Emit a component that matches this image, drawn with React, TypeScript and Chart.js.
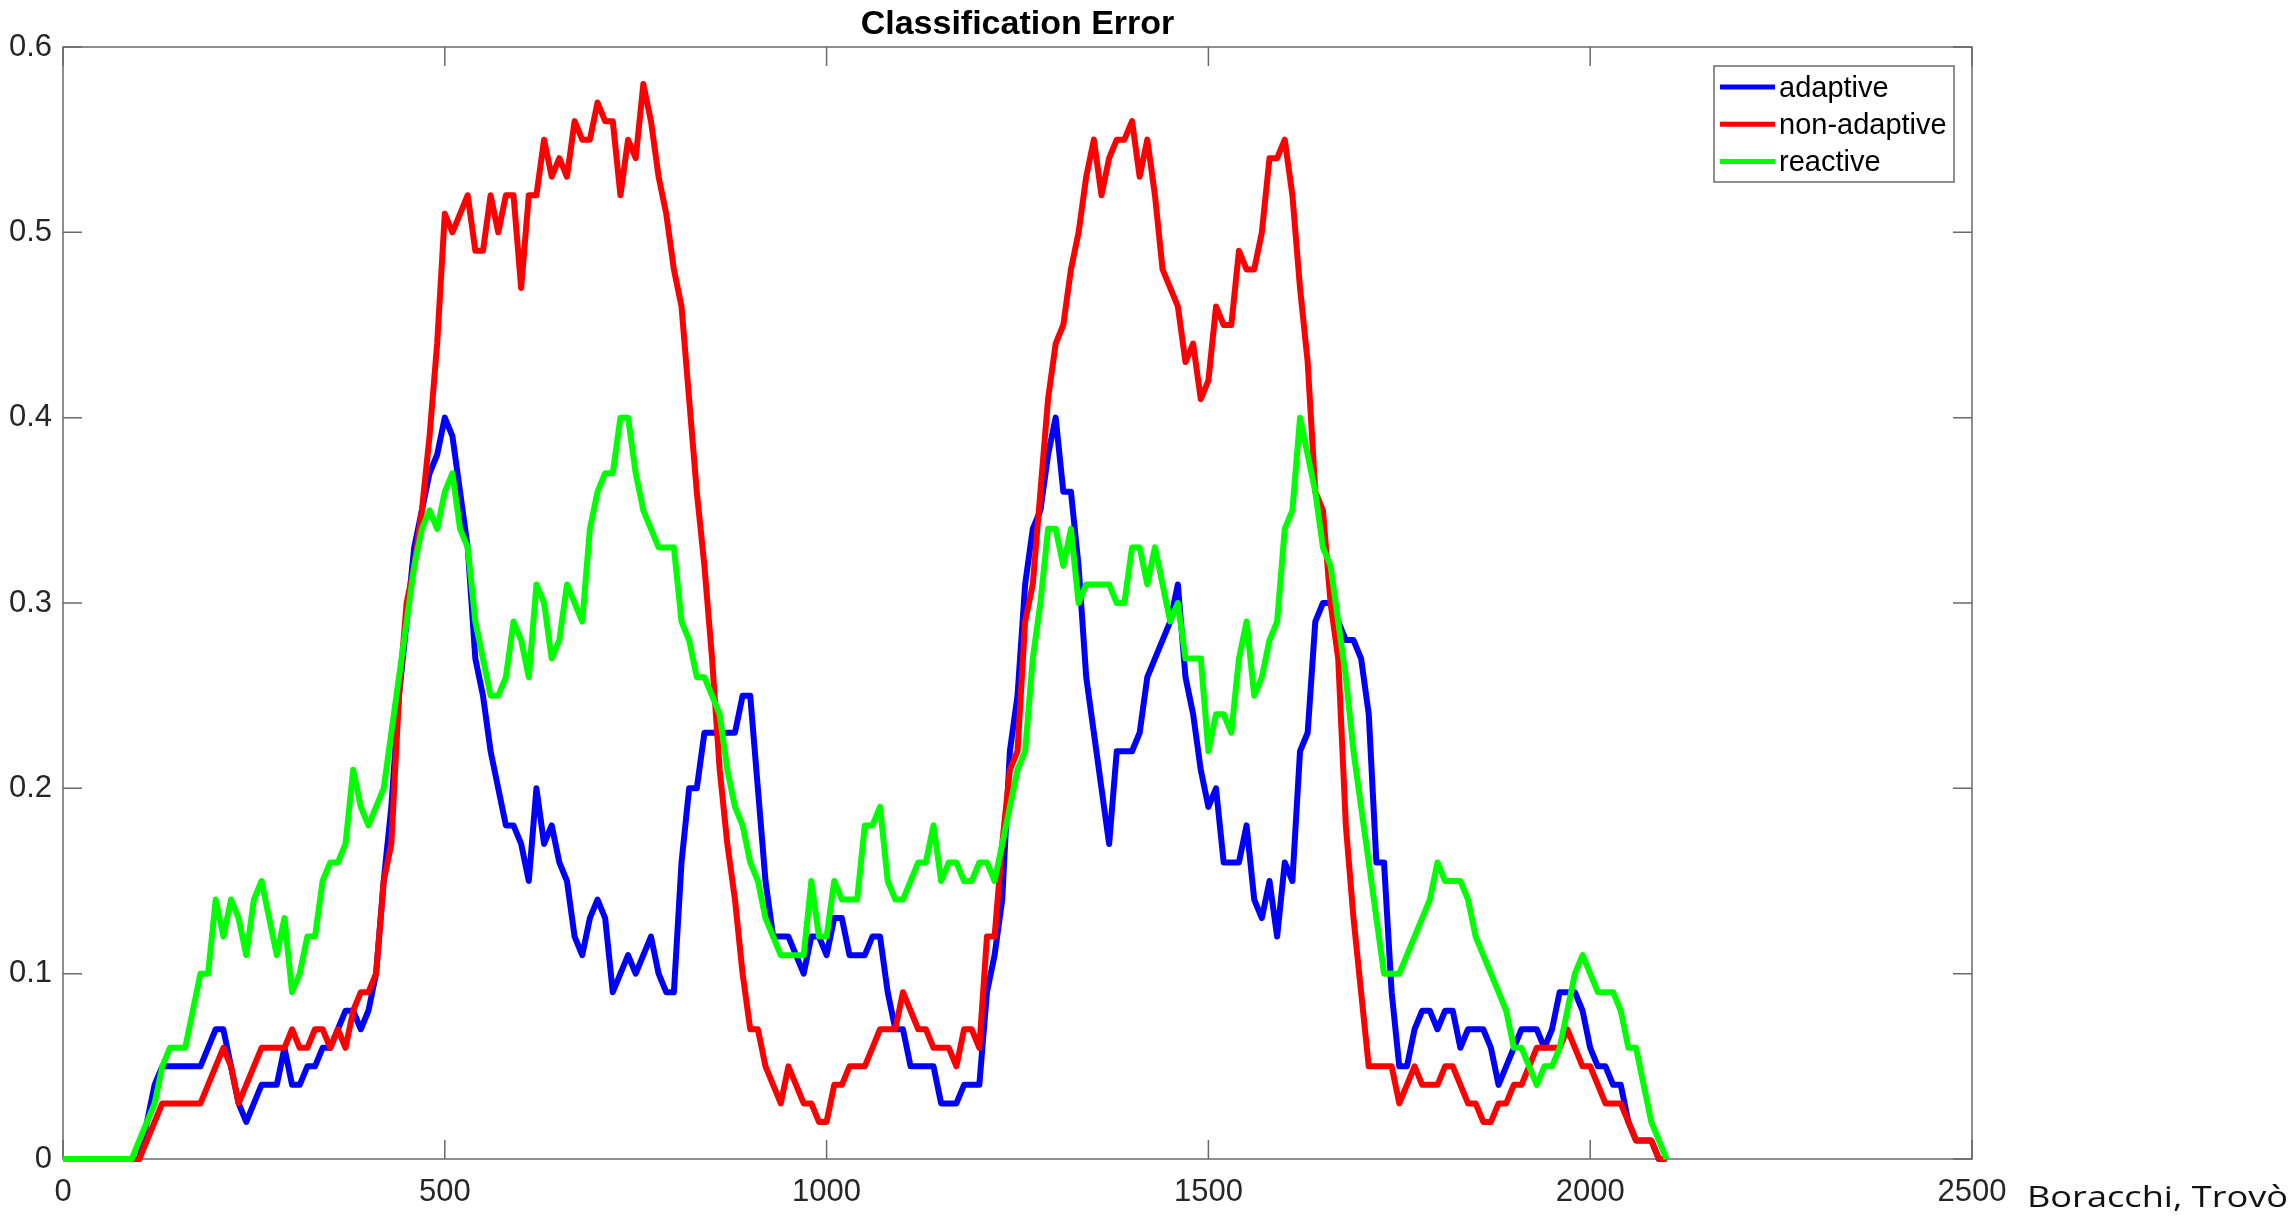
import React, { useEffect, useRef } from "react";
import { Chart, registerables } from "chart.js";

Chart.register(...registerables);

// Classification error, one reading every SAMPLE_STEP samples (t = 0 .. 2100)
const SAMPLE_STEP = 10;

const adaptive = [
  0, 0, 0, 0, 0, 0, 0, 0, 0, 0, 0,
  0.02, 0.04, 0.05, 0.05, 0.05, 0.05, 0.05, 0.05, 0.06, 0.07,
  0.07, 0.05, 0.03, 0.02, 0.03, 0.04, 0.04, 0.04, 0.06, 0.04,
  0.04, 0.05, 0.05, 0.06, 0.06, 0.07, 0.08, 0.08, 0.07, 0.08,
  0.10, 0.15, 0.19, 0.25, 0.29, 0.33, 0.35, 0.37, 0.38, 0.40,
  0.39, 0.36, 0.33, 0.27, 0.25, 0.22, 0.20, 0.18, 0.18, 0.17,
  0.15, 0.20, 0.17, 0.18, 0.16, 0.15, 0.12, 0.11, 0.13, 0.14,
  0.13, 0.09, 0.10, 0.11, 0.10, 0.11, 0.12, 0.10, 0.09, 0.09,
  0.16, 0.20, 0.20, 0.23, 0.23, 0.23, 0.23, 0.23, 0.25, 0.25,
  0.20, 0.15, 0.12, 0.12, 0.12, 0.11, 0.10, 0.12, 0.12, 0.11,
  0.13, 0.13, 0.11, 0.11, 0.11, 0.12, 0.12, 0.09, 0.07, 0.07,
  0.05, 0.05, 0.05, 0.05, 0.03, 0.03, 0.03, 0.04, 0.04, 0.04,
  0.09, 0.11, 0.14, 0.22, 0.25, 0.31, 0.34, 0.35, 0.38, 0.40,
  0.36, 0.36, 0.32, 0.26, 0.23, 0.20, 0.17, 0.22, 0.22, 0.22,
  0.23, 0.26, 0.27, 0.28, 0.29, 0.31, 0.26, 0.24, 0.21, 0.19,
  0.20, 0.16, 0.16, 0.16, 0.18, 0.14, 0.13, 0.15, 0.12, 0.16,
  0.15, 0.22, 0.23, 0.29, 0.30, 0.30, 0.29, 0.28, 0.28, 0.27,
  0.24, 0.16, 0.16, 0.09, 0.05, 0.05, 0.07, 0.08, 0.08, 0.07,
  0.08, 0.08, 0.06, 0.07, 0.07, 0.07, 0.06, 0.04, 0.05, 0.06,
  0.07, 0.07, 0.07, 0.06, 0.07, 0.09, 0.09, 0.09, 0.08, 0.06,
  0.05, 0.05, 0.04, 0.04, 0.02, 0.01, 0.01, 0.01, 0, 0,
];

const nonAdaptive = [
  0, 0, 0, 0, 0, 0, 0, 0, 0, 0, 0,
  0.01, 0.02, 0.03, 0.03, 0.03, 0.03, 0.03, 0.03, 0.04, 0.05,
  0.06, 0.05, 0.03, 0.04, 0.05, 0.06, 0.06, 0.06, 0.06, 0.07,
  0.06, 0.06, 0.07, 0.07, 0.06, 0.07, 0.06, 0.08, 0.09, 0.09,
  0.10, 0.15, 0.17, 0.25, 0.30, 0.32, 0.35, 0.39, 0.44, 0.51,
  0.50, 0.51, 0.52, 0.49, 0.49, 0.52, 0.50, 0.52, 0.52, 0.47,
  0.52, 0.52, 0.55, 0.53, 0.54, 0.53, 0.56, 0.55, 0.55, 0.57,
  0.56, 0.56, 0.52, 0.55, 0.54, 0.58, 0.56, 0.53, 0.51, 0.48,
  0.46, 0.41, 0.36, 0.32, 0.27, 0.21, 0.17, 0.14, 0.10, 0.07,
  0.07, 0.05, 0.04, 0.03, 0.05, 0.04, 0.03, 0.03, 0.02, 0.02,
  0.04, 0.04, 0.05, 0.05, 0.05, 0.06, 0.07, 0.07, 0.07, 0.09,
  0.08, 0.07, 0.07, 0.06, 0.06, 0.06, 0.05, 0.07, 0.07, 0.06,
  0.12, 0.12, 0.17, 0.21, 0.22, 0.29, 0.31, 0.36, 0.41, 0.44,
  0.45, 0.48, 0.50, 0.53, 0.55, 0.52, 0.54, 0.55, 0.55, 0.56,
  0.53, 0.55, 0.52, 0.48, 0.47, 0.46, 0.43, 0.44, 0.41, 0.42,
  0.46, 0.45, 0.45, 0.49, 0.48, 0.48, 0.50, 0.54, 0.54, 0.55,
  0.52, 0.47, 0.43, 0.36, 0.35, 0.30, 0.27, 0.18, 0.13, 0.09,
  0.05, 0.05, 0.05, 0.05, 0.03, 0.04, 0.05, 0.04, 0.04, 0.04,
  0.05, 0.05, 0.04, 0.03, 0.03, 0.02, 0.02, 0.03, 0.03, 0.04,
  0.04, 0.05, 0.06, 0.06, 0.06, 0.06, 0.07, 0.06, 0.05, 0.05,
  0.04, 0.03, 0.03, 0.03, 0.02, 0.01, 0.01, 0.01, 0, 0,
];

const reactive = [
  0, 0, 0, 0, 0, 0, 0, 0, 0, 0, 0.01,
  0.02, 0.03, 0.05, 0.06, 0.06, 0.06, 0.08, 0.10, 0.10, 0.14,
  0.12, 0.14, 0.13, 0.11, 0.14, 0.15, 0.13, 0.11, 0.13, 0.09,
  0.10, 0.12, 0.12, 0.15, 0.16, 0.16, 0.17, 0.21, 0.19, 0.18,
  0.19, 0.20, 0.23, 0.26, 0.29, 0.32, 0.34, 0.35, 0.34, 0.36,
  0.37, 0.34, 0.33, 0.29, 0.27, 0.25, 0.25, 0.26, 0.29, 0.28,
  0.26, 0.31, 0.30, 0.27, 0.28, 0.31, 0.30, 0.29, 0.34, 0.36,
  0.37, 0.37, 0.40, 0.40, 0.37, 0.35, 0.34, 0.33, 0.33, 0.33,
  0.29, 0.28, 0.26, 0.26, 0.25, 0.24, 0.21, 0.19, 0.18, 0.16,
  0.15, 0.13, 0.12, 0.11, 0.11, 0.11, 0.11, 0.15, 0.12, 0.12,
  0.15, 0.14, 0.14, 0.14, 0.18, 0.18, 0.19, 0.15, 0.14, 0.14,
  0.15, 0.16, 0.16, 0.18, 0.15, 0.16, 0.16, 0.15, 0.15, 0.16,
  0.16, 0.15, 0.17, 0.19, 0.21, 0.22, 0.27, 0.30, 0.34, 0.34,
  0.32, 0.34, 0.30, 0.31, 0.31, 0.31, 0.31, 0.30, 0.30, 0.33,
  0.33, 0.31, 0.33, 0.31, 0.29, 0.30, 0.27, 0.27, 0.27, 0.22,
  0.24, 0.24, 0.23, 0.27, 0.29, 0.25, 0.26, 0.28, 0.29, 0.34,
  0.35, 0.40, 0.38, 0.36, 0.33, 0.32, 0.29, 0.26, 0.22, 0.19,
  0.16, 0.13, 0.10, 0.10, 0.10, 0.11, 0.12, 0.13, 0.14, 0.16,
  0.15, 0.15, 0.15, 0.14, 0.12, 0.11, 0.10, 0.09, 0.08, 0.06,
  0.06, 0.05, 0.04, 0.05, 0.05, 0.06, 0.08, 0.10, 0.11, 0.10,
  0.09, 0.09, 0.09, 0.08, 0.06, 0.06, 0.04, 0.02, 0.01, 0,
];

const seriesNames = ["adaptive", "non-adaptive", "reactive"];
const seriesColors = ["#0000ff", "#ff0000", "#00ff00"];
const xTicks = [0, 500, 1000, 1500, 2000, 2500];
const yTicks = [0, 0.1, 0.2, 0.3, 0.4, 0.5, 0.6];
const TITLE = "Classification Error";
const CREDIT = "Boracchi, Trovò";

const FONT = "'Liberation Sans', Arial, Helvetica, sans-serif";
const FRAME_COLOR = "#6a6a6a";
const LABEL_COLOR = "#262626";
const TICK_LEN = 19;

const toPoints = (values: number[]) =>
  values.map((v, i) => ({ x: i * SAMPLE_STEP, y: v }));

// Box around the axes with inward tick marks on all four sides
const axesBox = {
  id: "axesBox",
  beforeDatasetsDraw(chart: any) {
    const { ctx, chartArea: a } = chart;
    const xs = chart.scales.x;
    const ys = chart.scales.y;
    ctx.save();
    ctx.strokeStyle = FRAME_COLOR;
    ctx.lineWidth = 1.5;
    ctx.strokeRect(a.left, a.top, a.right - a.left, a.bottom - a.top);
    ctx.beginPath();
    xTicks.forEach((v) => {
      const p = xs.getPixelForValue(v);
      ctx.moveTo(p, a.bottom);
      ctx.lineTo(p, a.bottom - TICK_LEN);
      ctx.moveTo(p, a.top);
      ctx.lineTo(p, a.top + TICK_LEN);
    });
    yTicks.forEach((v) => {
      const p = ys.getPixelForValue(v);
      ctx.moveTo(a.left, p);
      ctx.lineTo(a.left + TICK_LEN, p);
      ctx.moveTo(a.right, p);
      ctx.lineTo(a.right - TICK_LEN, p);
    });
    ctx.stroke();
    ctx.restore();
  },
};

// Title, boxed legend in the upper right corner and the author credit
const decorations = {
  id: "decorations",
  afterDraw(chart: any) {
    const { ctx, chartArea: a } = chart;
    ctx.save();

    ctx.fillStyle = "#000";
    ctx.font = `bold 34px ${FONT}`;
    ctx.textAlign = "center";
    ctx.textBaseline = "alphabetic";
    ctx.fillText(TITLE, (a.left + a.right) / 2, 34);

    const boxW = 240;
    const boxH = 116;
    const boxX = a.right - 18 - boxW;
    const boxY = a.top + 19;
    ctx.fillStyle = "#fff";
    ctx.fillRect(boxX, boxY, boxW, boxH);
    ctx.strokeStyle = FRAME_COLOR;
    ctx.lineWidth = 1.5;
    ctx.strokeRect(boxX, boxY, boxW, boxH);

    ctx.font = `29px ${FONT}`;
    ctx.textAlign = "left";
    seriesNames.forEach((name, i) => {
      const rowY = boxY + 21 + i * 37.2;
      ctx.strokeStyle = seriesColors[i];
      ctx.lineWidth = 5;
      ctx.beginPath();
      ctx.moveTo(boxX + 6, rowY);
      ctx.lineTo(boxX + 61, rowY);
      ctx.stroke();
      ctx.fillStyle = "#000";
      ctx.fillText(name, boxX + 65, rowY + 10);
    });

    ctx.font = `30px 'Open Sans', 'Noto Sans', sans-serif`;
    const w = ctx.measureText(CREDIT).width;
    const target = 261;
    ctx.translate(2027, 1207);
    ctx.scale(target / w, 1);
    ctx.fillStyle = "#111";
    ctx.fillText(CREDIT, 0, 0);

    ctx.restore();
  },
};

export default function App() {
  const canvasRef = useRef<HTMLCanvasElement | null>(null);

  useEffect(() => {
    if (!canvasRef.current) return;
    const datasets = [adaptive, nonAdaptive, reactive].map((vals, i) => ({
      label: seriesNames[i],
      data: toPoints(vals),
      borderColor: seriesColors[i],
      backgroundColor: seriesColors[i],
      borderWidth: 6,
      pointRadius: 0,
      tension: 0,
      fill: false,
      borderJoinStyle: "round" as const,
      clip: false as any,
      order: 3 - i,
    }));

    const chart = new Chart(canvasRef.current, {
      type: "line",
      data: { datasets },
      options: {
        animation: false,
        responsive: true,
        maintainAspectRatio: false,
        devicePixelRatio: 1,
        layout: { padding: { left: 0, right: 319, top: 47, bottom: 0 } },
        plugins: {
          legend: { display: false },
          tooltip: { enabled: false },
          title: { display: false },
        },
        scales: {
          x: {
            type: "linear",
            min: 0,
            max: 2500,
            grid: { display: false, drawTicks: false },
            border: { display: false },
            afterBuildTicks: (scale: any) => {
              scale.ticks = xTicks.map((v) => ({ value: v }));
            },
            afterFit: (scale: any) => {
              scale.height = 65;
            },
            ticks: {
              autoSkip: false,
              maxRotation: 0,
              padding: 15,
              color: LABEL_COLOR,
              font: { family: FONT, size: 31 },
              callback: (v: any) => String(v),
            },
          },
          y: {
            type: "linear",
            min: 0,
            max: 0.6,
            grid: { display: false, drawTicks: false },
            border: { display: false },
            afterBuildTicks: (scale: any) => {
              scale.ticks = yTicks.map((v) => ({ value: v }));
            },
            afterFit: (scale: any) => {
              scale.width = 63;
            },
            ticks: {
              autoSkip: false,
              padding: 11,
              color: LABEL_COLOR,
              font: { family: FONT, size: 31 },
              callback: (v: any) => {
                const n = Math.round(Number(v) * 10) / 10;
                return n === 0 ? "0" : n.toFixed(1);
              },
            },
          },
        },
      },
      plugins: [axesBox, decorations],
    });

    return () => chart.destroy();
  }, []);

  return (
    <div
      style={{
        position: "fixed",
        left: 0,
        top: 0,
        width: 2291,
        height: 1224,
        background: "#fff",
      }}
    >
      <canvas ref={canvasRef} />
    </div>
  );
}
